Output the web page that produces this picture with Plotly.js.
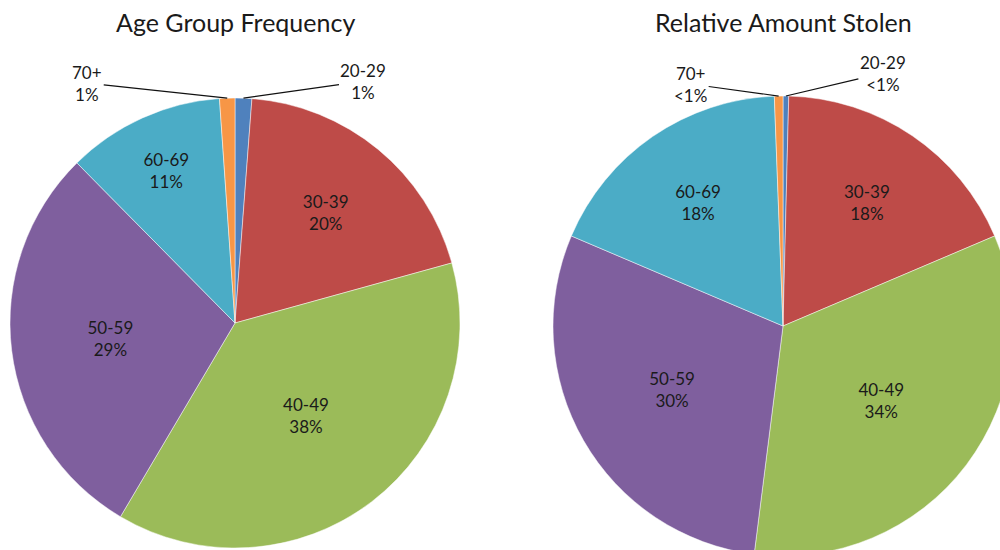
<!DOCTYPE html>
<html><head><meta charset="utf-8">
<script src="https://cdn.plot.ly/plotly-3.0.1.min.js"></script>
<style>html,body{margin:0;padding:0;overflow:hidden;background:#fff}#chart{width:1040px;height:570px}</style>
</head><body><div id="chart"></div>
<script>
// ---- data ----
const categories = ['20-29','30-39','40-49','50-59','60-69','70+'];
const frequencyValues = [1.2, 19.5, 37.8, 29.1, 11.3, 1.1];
const frequencyLabels = ['1%','20%','38%','29%','11%','1%'];
const stolenValues = [0.4, 18.2, 33.4, 29.4, 18.0, 0.6];
const stolenLabels = ['<1%','18%','34%','30%','18%','<1%'];
const titles = ['Age Group Frequency','Relative Amount Stolen'];
const colors = ['#4F81BD','#BE4B48','#9BBB59','#7F5F9E','#4BACC6','#F79646'];
const textPos = ['none','inside','inside','inside','inside','none'];

// ---- layout geometry (pixels) ----
const W = 1040, H = 570, FONT = 'Lato, "Open Sans", sans-serif';
const pies = [
  {cx: 235, cy: 323, r: 225, values: frequencyValues, labels: frequencyLabels,
   callouts: {0: [120, -17], 5: [-140, -15]}},
  {cx: 783, cy: 326, r: 230, values: stolenValues, labels: stolenLabels,
   callouts: {0: [97, -23], 5: [-88, -12]}}
];

const traces = [], annotations = [];
pies.forEach((p, i) => {
  traces.push({
    type: 'pie', labels: categories, values: p.values, text: p.labels,
    texttemplate: '%{label}<br>%{text}', textinfo: 'text', textposition: textPos,
    insidetextorientation: 'horizontal', sort: false, direction: 'clockwise', rotation: 0,
    marker: {colors: colors, line: {color: 'rgba(255,255,255,0.6)', width: 0.8}},
    insidetextfont: {family: FONT, size: 17, color: '#1a1a1a'},
    hoverinfo: 'label+percent', showlegend: false,
    domain: {x: [(p.cx - p.r) / W, (p.cx + p.r) / W], y: [1 - (p.cy + p.r) / H, 1 - (p.cy - p.r) / H]}
  });
  annotations.push({
    text: titles[i], xref: 'paper', yref: 'paper', x: p.cx / W, y: 1 - 22 / H,
    xanchor: 'center', yanchor: 'middle',
    showarrow: false, font: {family: FONT, size: 25, color: '#1a1a1a'}
  });
  const total = p.values.reduce((a, b) => a + b, 0);
  let cum = 0;
  p.values.forEach((v, k) => {
    const mid = (cum + v / 2) / total * 2 * Math.PI;
    cum += v;
    if (p.callouts[k]) {
      const tx = p.cx + p.r * Math.sin(mid), ty = p.cy - p.r * Math.cos(mid);
      annotations.push({
        text: categories[k] + '<br>' + p.labels[k], xref: 'paper', yref: 'paper',
        x: tx / W, y: 1 - ty / H, ax: p.callouts[k][0], ay: p.callouts[k][1],
        showarrow: true, arrowhead: 0, arrowwidth: 1.2, arrowcolor: '#111', standoff: 0,
        font: {family: FONT, size: 17, color: '#1a1a1a'}
      });
    }
  });
});

Plotly.newPlot('chart', traces, {
  width: W, height: H, margin: {l: 0, r: 0, t: 0, b: 0},
  paper_bgcolor: '#fff', annotations: annotations
}, {displayModeBar: false, staticPlot: true});
</script></body></html>
